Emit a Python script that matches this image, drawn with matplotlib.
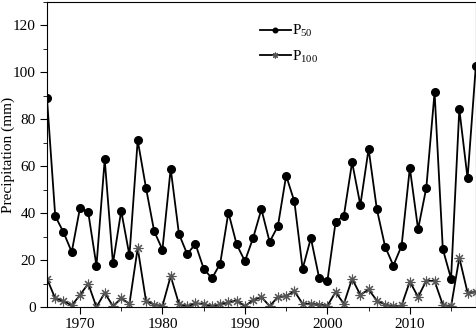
import numpy as np
import matplotlib.pyplot as plt
from matplotlib.ticker import MultipleLocator

plt.rcParams['font.family'] = ['Liberation Serif', 'DejaVu Serif']
plt.rcParams['mathtext.fontset'] = 'custom'
plt.rcParams['mathtext.rm'] = 'Liberation Serif'
plt.rcParams['mathtext.it'] = 'Liberation Serif'

# Jahre und Niederschlagswerte
years = np.arange(1966, 2019)
p50 = [88.9, 38.8, 31.9, 23.5, 42.2, 40.4, 17.6, 62.9, 18.6, 41.0,
       22.0, 71.1, 50.9, 32.3, 24.5, 59.0, 31.2, 22.6, 26.9, 16.4,
       12.2, 18.5, 40.3, 26.7, 19.6, 29.5, 41.7, 27.8, 34.5, 56.0,
       45.0, 16.3, 29.4, 12.5, 11.1, 36.3, 38.9, 61.7, 43.5, 67.4,
       41.7, 25.8, 17.7, 26.1, 59.3, 33.2, 50.9, 91.5, 24.7, 12.1,
       84.3, 54.9, 102.6]
p100 = [12.1, 3.7, 2.6, 0.7, 5.1, 10.0, 0.0, 6.1, 0.4, 3.7,
        1.4, 25.2, 2.8, 1.0, 0.5, 13.2, 1.4, 0.3, 1.6, 1.4,
        0.3, 1.3, 2.1, 2.8, 0.4, 3.0, 4.3, 0.4, 4.3, 4.7,
        6.8, 1.4, 1.4, 1.1, 0.6, 6.4, 1.4, 12.1, 5.2, 7.5,
        2.8, 1.1, 0.3, 0.7, 10.9, 4.3, 11.3, 11.1, 1.0, 0.3,
        21.0, 6.2, 6.4]

fig = plt.figure(figsize=(4.77, 3.32), dpi=100)
ax = fig.add_axes([0.0985, 0.075, 0.899, 0.919])

ax.plot(years, p50, '-', color='black', lw=1.3, marker='o',
        markersize=5.5, label='P$_{50}$')
ax.plot(years, p100, '-', color='black', lw=1.3, marker=(8, 2, 0),
        markersize=7, markeredgecolor='#555555', markeredgewidth=0.8,
        label='P$_{100}$')

ax.set_xlim(1966, 2018)
ax.set_ylim(0, 130)
ax.xaxis.set_major_locator(MultipleLocator(10))
ax.xaxis.set_minor_locator(MultipleLocator(5))
ax.yaxis.set_major_locator(MultipleLocator(20))
ax.yaxis.set_minor_locator(MultipleLocator(10))
ax.tick_params(which='both', direction='out', labelsize=11, pad=3)
ax.tick_params(which='major', length=5)
ax.tick_params(which='minor', length=3)
ax.set_ylabel('Precipitation (mm)', fontsize=11)
ax.yaxis.set_label_coords(-0.075, 0.5)

ax.legend(loc='upper left', bbox_to_anchor=(0.465, 0.975), frameon=False,
          fontsize=11, handlelength=2.0, markerscale=0.6,
          handletextpad=0.1, labelspacing=0.6)

fig.savefig('out.png', dpi=100)
